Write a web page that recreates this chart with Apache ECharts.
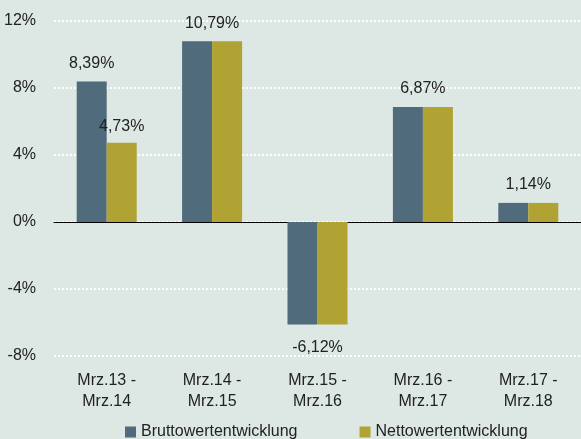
<!DOCTYPE html>
<html>
<head>
<meta charset="utf-8">
<script src="https://cdn.jsdelivr.net/npm/echarts@6/dist/echarts.min.js"></script>
<style>
html,body{margin:0;padding:0;background:#dde7e3;}
#chart{width:581px;height:439px;}
</style>
</head>
<body>
<div id="chart"></div>
<script>
const categories = ['Mrz.13 -\nMrz.14', 'Mrz.14 -\nMrz.15', 'Mrz.15 -\nMrz.16', 'Mrz.16 -\nMrz.17', 'Mrz.17 -\nMrz.18'];
const brutto = [8.39, 10.79, -6.12, 6.87, 1.14];
const netto = [4.73, 10.79, -6.12, 6.87, 1.14];
const seriesNames = ['Bruttowertentwicklung', 'Nettowertentwicklung'];
const yTicks = { min: -8, max: 12, interval: 4 };

const FONT = "'Liberation Sans Narrow', 'Arial Narrow', 'Liberation Sans', Arial, sans-serif";
const FS = 16;
const fmt = v => v.toFixed(2).replace('.', ',') + '%';

// When both series share a value, one label is centered over the pair.
const bruttoData = brutto.map((v, i) => {
  const same = v === netto[i];
  return {
    value: v,
    label: {
      show: true,
      position: v < 0 ? 'bottom' : 'top',
      distance: v < 0 ? 15 : 10,
      offset: same ? [15, 0] : [0, 0],
      formatter: () => fmt(v)
    }
  };
});
const nettoData = netto.map((v, i) => ({
  value: v,
  label: {
    show: v !== brutto[i],
    position: v < 0 ? 'bottom' : 'top',
    distance: 8,
    formatter: () => fmt(v)
  }
}));

const chart = echarts.init(document.getElementById('chart'), null, { renderer: 'canvas' });
chart.setOption({
  backgroundColor: '#dde7e3',
  animation: false,
  textStyle: { fontFamily: FONT },
  grid: { left: 54, right: -3, top: 21, bottom: 83, containLabel: false },
  legend: {
    top: 424,
    left: 125,
    padding: [0, 0, 0, 0],
    itemWidth: 11,
    itemHeight: 11,
    itemGap: 62,
    icon: 'rect',
    textStyle: { fontFamily: FONT, fontSize: FS, color: '#222' },
    data: seriesNames
  },
  xAxis: {
    type: 'category',
    data: categories,
    axisLine: { show: true, onZero: true, lineStyle: { color: '#000', width: 1 } },
    axisTick: { show: false },
    axisLabel: {
      interval: 0,
      fontFamily: FONT,
      fontSize: FS,
      color: '#222',
      lineHeight: 21,
      margin: 14
    },
    position: 'bottom'
  },
  yAxis: {
    type: 'value',
    min: yTicks.min,
    max: yTicks.max,
    interval: yTicks.interval,
    axisLine: { show: false },
    axisTick: { show: false },
    axisLabel: {
      formatter: v => v + '%',
      fontFamily: FONT,
      fontSize: FS,
      color: '#222',
      margin: 18
    },
    splitLine: {
      show: true,
      lineStyle: { color: '#ffffff', type: [2, 2], width: 2 }
    }
  },
  series: [
    {
      name: seriesNames[0],
      type: 'bar',
      data: bruttoData,
      barWidth: 30,
      barGap: '0%',
      itemStyle: { color: '#4f6b7c' },
      label: { fontFamily: FONT, fontSize: FS, color: '#222' }
    },
    {
      name: seriesNames[1],
      type: 'bar',
      data: nettoData,
      barWidth: 30,
      barGap: '0%',
      itemStyle: { color: '#b0a233' },
      label: { fontFamily: FONT, fontSize: FS, color: '#222' }
    }
  ]
});
</script>
</body>
</html>
